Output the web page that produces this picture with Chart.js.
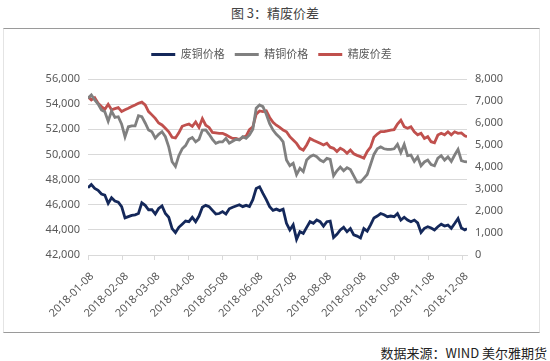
<!DOCTYPE html>
<html>
<head>
<meta charset="utf-8">
<script src="https://cdn.jsdelivr.net/npm/chart.js@4.4.1/dist/chart.umd.min.js"></script>
<style>
    body { margin: 0; width: 550px; height: 361px; background: #fff; position: relative; overflow: hidden; font-family: 'Noto Sans CJK SC', sans-serif; }
    #title { position: absolute; left: 0; top: 3px; width: 550px; text-align: center; font-size: 13px; color: #444; }
    #box { position: absolute; left: 3px; top: 28px; width: 535px; height: 303px; border-top: 1px solid #9a9a9a; border-bottom: 1px solid #9a9a9a; border-left: 1px solid #e4e4e4; border-right: 1px solid #e4e4e4; }
    #chart { position: absolute; left: 3px; top: 29px; }
    #source { position: absolute; right: 3px; top: 343px; font-size: 13px; color: #222; }
</style>
</head>
<body>
<div id="title">图 3：精废价差</div>
<div id="box"></div>
<canvas id="chart" width="537" height="303"></canvas>
<div id="source">数据来源：WIND 美尔雅期货</div>
<script>
// Sample dates (roughly every 3 days)
const dates = [
    '2018-01-08', '2018-01-11', '2018-01-14', '2018-01-17', '2018-01-20', '2018-01-23', '2018-01-26', '2018-01-29',
    '2018-02-01', '2018-02-04', '2018-02-07', '2018-02-10', '2018-02-13', '2018-02-16', '2018-02-19', '2018-02-22', '2018-02-25', '2018-02-28',
    '2018-03-03', '2018-03-06', '2018-03-09', '2018-03-12', '2018-03-15', '2018-03-18', '2018-03-21', '2018-03-24', '2018-03-27', '2018-03-30',
    '2018-04-02', '2018-04-05', '2018-04-08', '2018-04-11', '2018-04-14', '2018-04-17', '2018-04-20', '2018-04-23', '2018-04-26', '2018-04-29',
    '2018-05-02', '2018-05-05', '2018-05-08', '2018-05-11', '2018-05-14', '2018-05-17', '2018-05-20', '2018-05-23', '2018-05-26', '2018-05-29',
    '2018-06-01', '2018-06-04', '2018-06-07', '2018-06-10', '2018-06-13', '2018-06-16', '2018-06-19', '2018-06-22', '2018-06-25', '2018-06-28',
    '2018-07-01', '2018-07-04', '2018-07-07', '2018-07-10', '2018-07-13', '2018-07-16', '2018-07-19', '2018-07-22', '2018-07-25', '2018-07-28', '2018-07-31',
    '2018-08-03', '2018-08-06', '2018-08-09', '2018-08-12', '2018-08-15', '2018-08-18', '2018-08-21', '2018-08-24', '2018-08-27', '2018-08-30',
    '2018-09-02', '2018-09-05', '2018-09-08', '2018-09-11', '2018-09-14', '2018-09-17', '2018-09-20', '2018-09-23', '2018-09-26', '2018-09-29',
    '2018-10-02', '2018-10-05', '2018-10-08', '2018-10-11', '2018-10-14', '2018-10-17', '2018-10-20', '2018-10-23', '2018-10-26', '2018-10-29',
    '2018-11-01', '2018-11-04', '2018-11-07', '2018-11-10', '2018-11-13', '2018-11-16', '2018-11-19', '2018-11-22', '2018-11-25', '2018-11-28',
    '2018-12-01', '2018-12-04', '2018-12-07', '2018-12-10', '2018-12-12'
];

// 废铜价格 (left axis)
const wasteCopper = [
    47350, 47600, 47300, 47150, 46850, 46770, 46100, 46550,
    46300, 46200, 45850, 44950, 45050, 45150, 45200, 45300, 46150, 45950,
    45600, 45600, 45260, 45700, 45900, 45300, 45000, 44100, 43780, 44200,
    44450, 44700, 44650, 45000, 44650, 45100, 45800, 45950, 45850, 45550,
    45260, 45300, 45450, 45260, 45680, 45800, 45900, 46000, 45850, 45950,
    45850, 46400, 47300, 47430, 46900, 46400, 45850, 45550, 45650, 45530,
    45650, 44520, 43990, 44400, 43250, 43850, 43720, 44200, 44650, 44520, 44780,
    44650, 44300, 44650, 44700, 43400, 43650, 43990, 44200, 43850, 44100,
    43600, 43500, 43350, 44100, 43900, 44400, 44950, 45100, 45300, 45200,
    45050, 45100, 45050, 45300, 44780, 45000, 44780, 44650, 44780, 44550,
    43800, 44120, 44250, 44150, 43990, 44250, 44450, 44300, 44380, 44120,
    44500, 44900, 44150, 43990, 44100
];

// 精铜价格 (left axis)
const refinedCopper = [
    54460, 54730, 54330, 54000, 53530, 53400, 52650, 53450,
    52950, 53000, 52400, 51400, 52200, 52270, 52270, 53080, 53000, 52500,
    51940, 51800, 51300, 51600, 51810, 51410, 50600, 49420, 49050, 49900,
    50450, 50700, 51200, 51350, 51000, 51200, 51940, 51950, 51600, 51200,
    50880, 51000, 51000, 51280, 50900, 51050, 51200, 51150, 51410, 51280,
    51550, 52000, 53670, 53930, 53800, 53200, 52450, 51940, 51600, 51350,
    51000, 49550, 49100, 49300, 48400, 48900, 48640, 49550, 49820, 49950, 49820,
    49550, 49420, 49680, 49600, 48300, 48700, 49000, 48700, 48950, 48800,
    48300, 47800, 47800, 48100, 48400, 49200, 50000, 50450, 50600, 50450,
    50400, 50400, 50450, 50800, 50150, 50800, 49900, 49950, 49450, 49800,
    49100, 49400, 49550, 49200, 49100, 49700, 49900, 49550, 49800, 49450,
    49950, 50400, 49500, 49420, 49400
];

// 精废价差 (right axis)
const priceSpread = [
    7195, 7050, 7150, 6900, 6750, 6620, 6850, 6600,
    6650, 6700, 6520, 6600, 6670, 6750, 6820, 6900, 6950, 6820,
    6520, 6370, 6210, 6000, 5910, 5760, 5600, 5350, 5320, 5550,
    5850, 5910, 5950, 5850, 6050, 5800, 6200, 5900, 5800, 5570,
    5550, 5530, 5530, 5460, 5380, 5300, 5300, 5250, 5350, 5400,
    5700, 5830, 6400, 6550, 6520, 6550, 6250, 6030, 5900, 5800,
    5680, 5600, 5380, 5230, 5075, 4850, 4770, 5000, 5300, 5220, 5150,
    5075, 5000, 5075, 4900, 4850, 4700, 4850, 4770, 4620, 4770,
    4600, 4530, 4470, 4400, 4700, 4900, 5350, 5500, 5605, 5605,
    5640, 5680, 5700, 5950, 6130, 5830, 5760, 5830, 5600, 5460,
    5530, 5300, 5380, 5150, 5100, 5450, 5530, 5460, 5600, 5460,
    5600, 5530, 5550, 5420, 5380
];

const tickLabels = [
    '2018-01-08', '2018-02-08', '2018-03-08', '2018-04-08', '2018-05-08', '2018-06-08',
    '2018-07-08', '2018-08-08', '2018-09-08', '2018-10-08', '2018-11-08', '2018-12-08'
];

Chart.defaults.font.family = "'Noto Sans', 'Noto Sans CJK SC', sans-serif";
Chart.defaults.color = '#595959';

// days since the first date, used as x position on a linear axis
function toDay(s) {
    return (Date.parse(s) - Date.parse(dates[0])) / 86400000;
}
const xs = dates.map(toDay);
const points = arr => arr.map((v, i) => ({ x: xs[i], y: v }));

// push the plot area a bit further below the legend
const legendGap = {
    id: 'legendGap',
    afterInit(chart) {
        const fit = chart.legend.fit;
        chart.legend.fit = function() {
            fit.call(this);
            this.height += 9;
        };
    }
};

const ctx = document.getElementById('chart').getContext('2d');
new Chart(ctx, {
    type: 'line',
    data: {
        datasets: [{
            label: '废铜价格',
            data: points(wasteCopper),
            borderColor: '#14285a',
            backgroundColor: '#14285a',
            yAxisID: 'y'
        }, {
            label: '精铜价格',
            data: points(refinedCopper),
            borderColor: '#808080',
            backgroundColor: '#808080',
            yAxisID: 'y'
        }, {
            label: '精废价差',
            data: points(priceSpread),
            borderColor: '#c0504d',
            backgroundColor: '#c0504d',
            yAxisID: 'y1'
        }]
    },
    options: {
        responsive: false,
        animation: false,
        devicePixelRatio: 1,
        elements: {
            point: { radius: 0 },
            line: { borderWidth: 2.8, tension: 0 }
        },
        layout: { padding: { top: 10, left: 0, right: 0, bottom: 0 } },
        plugins: {
            tooltip: { enabled: false },
            legend: {
                position: 'top',
                labels: {
                    boxWidth: 24,
                    boxHeight: 3,
                    padding: 10,
                    font: { size: 11 },
                    color: '#595959',
                    generateLabels: function(chart) {
                        return Chart.defaults.plugins.legend.labels.generateLabels(chart).map(function(item) {
                            item.lineWidth = 0;
                            return item;
                        });
                    }
                }
            }
        },
        scales: {
            x: {
                type: 'linear',
                min: 0,
                max: 338,
                afterBuildTicks: function(scale) {
                    scale.ticks = tickLabels.map(t => ({ value: toDay(t) }));
                },
                afterFit: function(scale) { scale.height = 77; },
                ticks: {
                    autoSkip: false,
                    minRotation: 45,
                    maxRotation: 45,
                    padding: 10,
                    labelOffset: 4,
                    font: { size: 11 },
                    callback: function(value, index) {
                        return tickLabels[index];
                    }
                },
                grid: { drawOnChartArea: false, drawTicks: true, tickLength: 5, color: '#d9d9d9' },
                border: { color: '#d9d9d9' }
            },
            y: {
                position: 'left',
                min: 42000,
                max: 56000,
                afterFit: function(scale) { scale.width = 85; },
                ticks: {
                    stepSize: 2000,
                    padding: 8,
                    font: { size: 11 },
                    callback: v => v.toLocaleString('en-US')
                },
                grid: { color: '#d9d9d9', drawTicks: false },
                border: { display: false }
            },
            y1: {
                position: 'right',
                min: 0,
                max: 8000,
                afterFit: function(scale) { scale.width = 73; },
                ticks: {
                    stepSize: 1000,
                    padding: 8,
                    font: { size: 11 },
                    callback: v => v.toLocaleString('en-US')
                },
                grid: { drawOnChartArea: false, drawTicks: false },
                border: { display: false }
            }
        }
    },
    plugins: [legendGap]
});
</script>
</body>
</html>
